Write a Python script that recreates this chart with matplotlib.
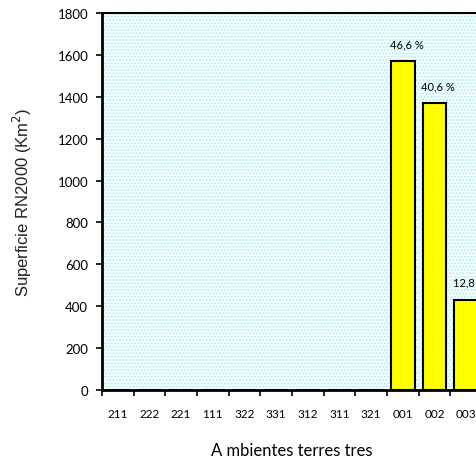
import matplotlib.pyplot as plt
import numpy as np

# superficie RN2000 por ambiente terrestre (km2)
categorias = ['211', '222', '221', '111', '322', '331', '312', '311', '321', '001', '002', '003']
superficie = [0, 0, 0, 0, 0, 0, 0, 0, 0, 1570, 1368, 431]
etiquetas = {9: '46,6 %', 10: '40,6 %', 11: '12,8 %'}


def main():
    fig = plt.figure(figsize=(4.76, 4.60), dpi=100)
    ax = fig.add_axes([102 / 476, 69 / 460, 380 / 476, 377 / 460])

    # fondo punteado tipo excel
    ax.set_facecolor('#f8ffff')
    ax.add_patch(plt.Rectangle((0, 0), 1, 1, transform=ax.transAxes,
                               facecolor='none', edgecolor='#b4eeee',
                               hatch='.....', linewidth=0, zorder=0))

    x = np.arange(len(categorias))
    ax.bar(x, superficie, width=0.75, color='#ffff00', edgecolor='black',
           linewidth=1.5, zorder=2)

    for i, txt in etiquetas.items():
        ax.text(x[i] + 0.12, superficie[i] + 58, txt, ha='center', va='bottom',
                fontsize=8, family='Lato', zorder=3)

    ax.set_xlim(-0.5, len(categorias) - 0.5)
    ax.set_ylim(0, 1800)
    ax.set_yticks(np.arange(0, 1801, 200))
    ax.set_yticklabels([str(v) for v in range(0, 1801, 200)], family='Lato', fontsize=9.5)
    ax.set_xticks(x)
    ax.set_xticklabels(categorias, family='Lato', fontsize=8.5)
    ax.set_xticks(np.arange(-0.5, len(categorias)), minor=True)
    ax.tick_params(axis='x', which='major', length=0, pad=13)
    ax.tick_params(axis='x', which='minor', length=4, width=1.2, direction='out')
    ax.tick_params(axis='y', length=4, width=1.2, direction='out', pad=6)

    for s in ['left', 'bottom']:
        ax.spines[s].set_linewidth(2)
    ax.spines['top'].set_linewidth(1.5)
    ax.spines['right'].set_linewidth(1.5)

    ax.set_xlabel('A mbientes terres tres', family='Lato', fontsize=12)
    ax.xaxis.set_label_coords(0.5, -0.138)
    ax.set_ylabel('Superficie RN2000 (Km$^2$)', family='Liberation Sans',
                  fontsize=12, color='#222222')
    ax.yaxis.set_label_coords(-0.179, 0.5)

    fig.savefig('out.png', dpi=100)


if __name__ == "__main__":
    main()
